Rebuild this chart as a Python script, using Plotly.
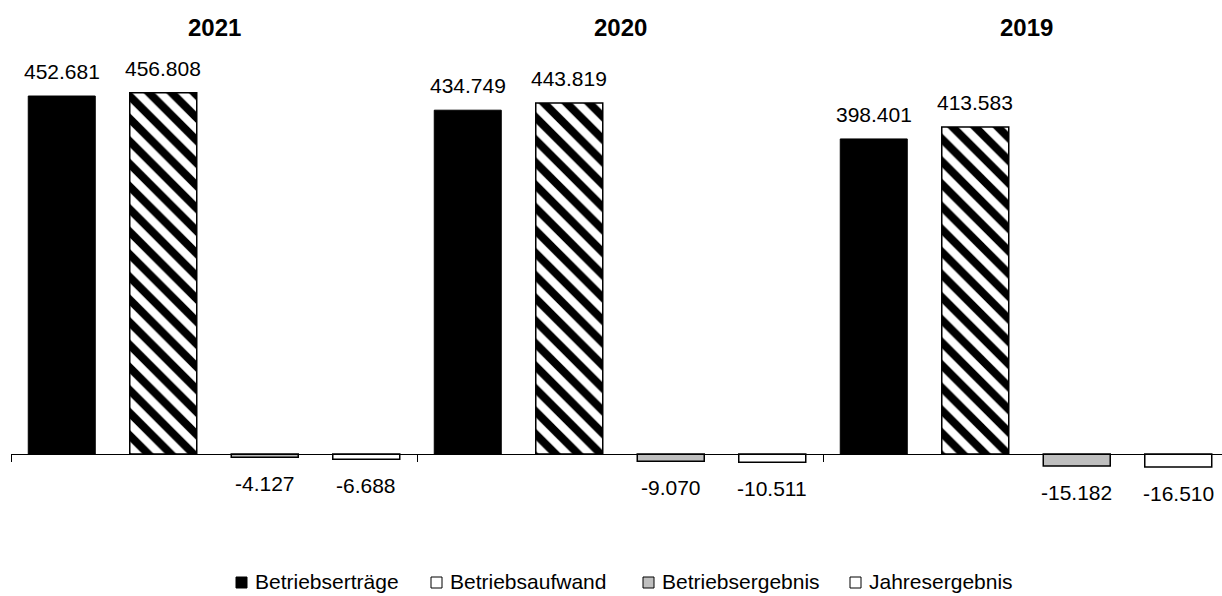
import plotly.graph_objects as go

# --- data (values in thousands) ---
years = ["2021", "2020", "2019"]
series_names = ["Betriebserträge", "Betriebsaufwand", "Betriebsergebnis", "Jahresergebnis"]
betriebsertraege = [452.681, 434.749, 398.401]
betriebsaufwand = [456.808, 443.819, 413.583]
betriebsergebnis = [-4.127, -9.070, -15.182]
jahresergebnis = [-6.688, -10.511, -16.510]

series_values = [betriebsertraege, betriebsaufwand, betriebsergebnis, jahresergebnis]

# --- geometry / styling ---
W, H = 1222, 596
ML = 11                      # left margin in px
PLOT_W = W - ML
GROUP_PX = 406               # pixel width of one year group
X_MIN = -0.5
X_MAX = X_MIN + PLOT_W / GROUP_PX
PX_PER_UNIT = 0.7908         # vertical pixels per thousand
ZERO_PX = 454                # y pixel of the zero line
Y_MAX = ZERO_PX / PX_PER_UNIT
Y_MIN = -(H - ZERO_PX) / PX_PER_UNIT

SLOT = 0.25
BAR_W = 0.165
FONT = "Liberation Sans, Arial, sans-serif"

styles = [
    dict(color="black", line=dict(color="black", width=1)),
    dict(color="white", line=dict(color="black", width=1.5),
         pattern=dict(shape="\\", fgcolor="black", bgcolor="white", fgopacity=1,
                      fillmode="replace", size=16, solidity=0.5)),
    dict(color="#bfbfbf", line=dict(color="black", width=1.5)),
    dict(color="white", line=dict(color="black", width=1.5)),
]

fig = go.Figure()
annotations = []

for i, (name, vals, st) in enumerate(zip(series_names, series_values, styles)):
    offset = (i - 1.5) * SLOT
    xs = [g + offset for g in range(len(years))]
    fig.add_trace(go.Bar(x=xs, y=vals, width=BAR_W, name=name, marker=st,
                         showlegend=False, hoverinfo="skip"))
    for x, v in zip(xs, vals):
        pos = v >= 0
        annotations.append(dict(
            x=x, y=v, xref="x", yref="y", text=f"{v:.3f}", showarrow=False,
            yanchor="bottom" if pos else "top", yshift=11 if pos else -13,
            font=dict(family=FONT, size=21, color="black")))

# year headings above each group
for g, yr in enumerate(years):
    annotations.append(dict(
        x=g, y=1 - 27 / H, xref="x", yref="paper", text=f"<b>{yr}</b>",
        showarrow=False, yanchor="middle", font=dict(family=FONT, size=24, color="black")))

# legend row drawn as small squares + labels
def px_to_paper_x(px):
    return (px - ML) / PLOT_W

def px_to_paper_y(py):
    return (H - py) / H

legend_text_x = [253, 448, 660, 867]
legend_fill = ["black", "white", "#bfbfbf", "white"]
shapes = []
for tx, name, fc in zip(legend_text_x, series_names, legend_fill):
    shapes.append(dict(type="rect", xref="paper", yref="paper",
                       x0=px_to_paper_x(tx - 17), x1=px_to_paper_x(tx - 6),
                       y0=px_to_paper_y(588), y1=px_to_paper_y(577),
                       fillcolor=fc, line=dict(color="black", width=1)))
    annotations.append(dict(x=px_to_paper_x(tx), y=px_to_paper_y(581), xref="paper", yref="paper",
                            text=name, showarrow=False, xanchor="left", yanchor="middle",
                            font=dict(family=FONT, size=21, color="black")))

zero_pos = (0 - Y_MIN) / (Y_MAX - Y_MIN)

fig.update_layout(
    width=W, height=H,
    margin=dict(l=ML, r=0, t=0, b=0),
    paper_bgcolor="white", plot_bgcolor="white",
    barmode="overlay",
    showlegend=False,
    annotations=annotations,
    shapes=shapes,
    xaxis=dict(range=[X_MIN, X_MAX], anchor="free", position=zero_pos,
               showline=True, linecolor="black", linewidth=1,
               ticks="outside", ticklen=7, tickcolor="black", tickwidth=1,
               tickvals=[-0.5, 0.5, 1.5, 2.5], showticklabels=False,
               showgrid=False, zeroline=False, fixedrange=True),
    yaxis=dict(range=[Y_MIN, Y_MAX], visible=False, showgrid=False,
               zeroline=False, fixedrange=True),
)

fig.write_html("out.html", config={"displayModeBar": False})
